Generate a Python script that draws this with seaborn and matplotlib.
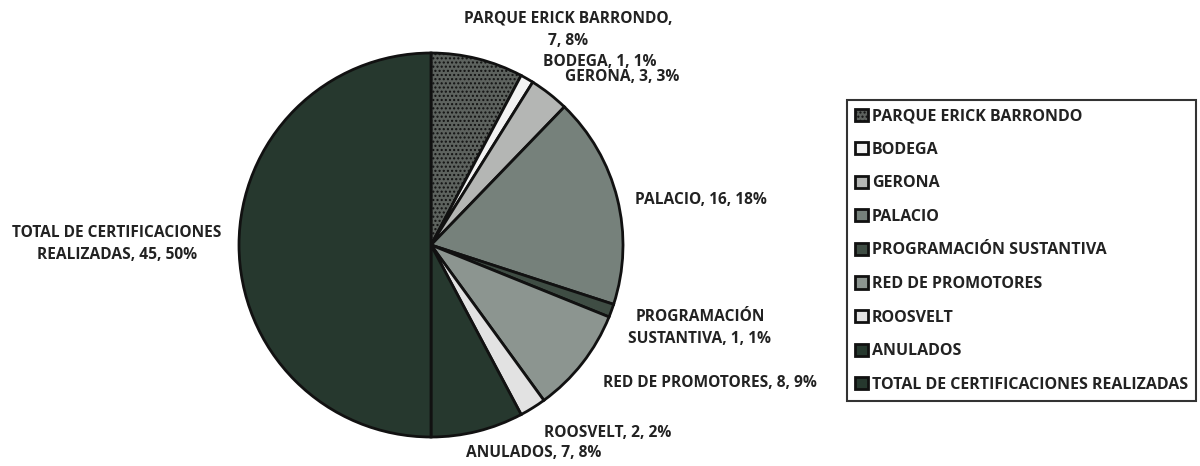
import seaborn as sns
import matplotlib.pyplot as plt

# data
categories = ["PARQUE ERICK BARRONDO", "BODEGA", "GERONA", "PALACIO",
              "PROGRAMACIÓN SUSTANTIVA", "RED DE PROMOTORES", "ROOSVELT",
              "ANULADOS", "TOTAL DE CERTIFICACIONES REALIZADAS"]
counts = [7, 1, 3, 16, 1, 8, 2, 7, 45]
pcts = [8, 1, 3, 18, 1, 9, 2, 8, 50]
label_text = ["PARQUE ERICK BARRONDO,\n7, 8%", "BODEGA, 1, 1%", "GERONA, 3, 3%",
              "PALACIO, 16, 18%", "PROGRAMACIÓN\nSUSTANTIVA, 1, 1%",
              "RED DE PROMOTORES, 8, 9%", "ROOSVELT, 2, 2%", "ANULADOS, 7, 8%",
              "TOTAL DE CERTIFICACIONES\nREALIZADAS, 45, 50%"]

# styling / layout
colors = ["#5d625e", "#f2f2f2", "#b4b6b4", "#76817b", "#3f4d44",
          "#8c9590", "#e2e2e2", "#26382e", "#26382e"]
hatches = ["....", None, None, None, None, None, None, None, None]
label_pos = [(0.714, 1.120), (0.880, 0.953), (0.995, 0.875), (1.0625, 0.234),
             (1.401, -0.432), (1.453, -0.719), (0.922, -0.979), (0.536, -1.083),
             (-1.635, 0.005)]
label_ha = ["center", "center", "center", "left", "center", "center",
            "center", "center", "center"]

sns.set_theme(style="white")
plt.rcParams["font.family"] = ["Open Sans", "DejaVu Sans"]

fig = plt.figure(figsize=(12, 4.66), dpi=100)
ax = fig.add_axes([0, 0, 1, 1])

wedges, _ = ax.pie(counts, startangle=90, counterclock=False, colors=colors,
                   wedgeprops=dict(edgecolor="#111111", linewidth=2))
for w, h in zip(wedges, hatches):
    if h:
        w.set_hatch(h)

for txt, (x, y), ha in zip(label_text, label_pos, label_ha):
    ax.text(x, y, txt, ha=ha, va="center", fontsize=11.2, fontweight="bold",
            color="#222222", linespacing=1.5)

ax.set_xlim(-431 / 192, (1200 - 431) / 192)
ax.set_ylim(-(466 - 245) / 192, 245 / 192)
ax.set_aspect("equal")
ax.axis("off")

leg = fig.legend(wedges, categories, loc="upper left",
                 bbox_to_anchor=(0.706, 0.785), frameon=True,
                 prop=dict(size=11.5, weight="bold"), labelspacing=1.1,
                 handlelength=0.8, handleheight=0.8, handletextpad=0.25,
                 borderpad=0.5, borderaxespad=0.0, fancybox=False,
                 edgecolor="black")
leg.get_frame().set_linewidth(1.5)
for t in leg.get_texts():
    t.set_color("#222222")

fig.savefig("out.png", dpi=100)
